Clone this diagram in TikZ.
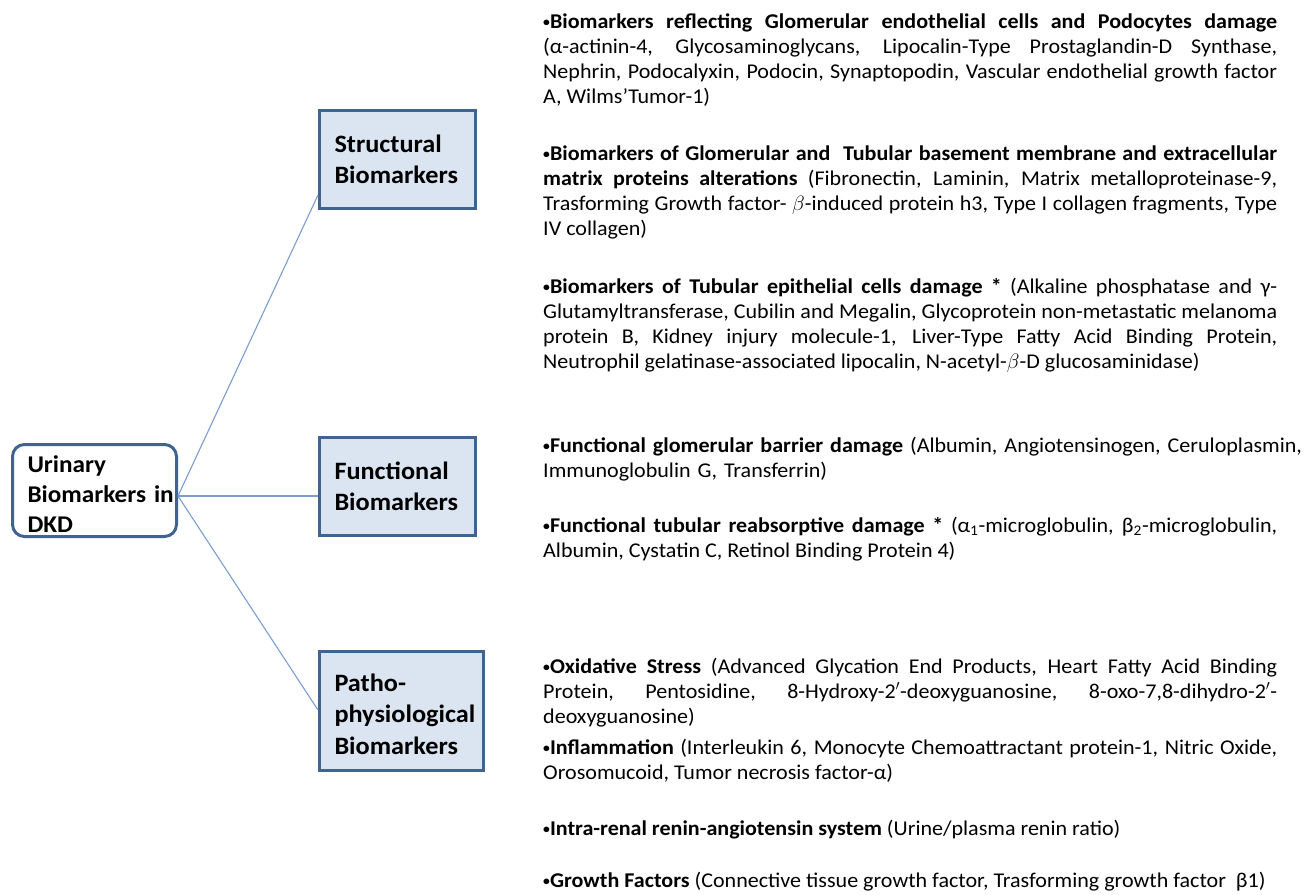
\documentclass[tikz,border=0pt]{standalone}
\usepackage{fontspec}
\setmainfont{Carlito}[FakeStretch=1.05]
\usetikzlibrary{calc}
\definecolor{boxborder}{HTML}{41638F}
\definecolor{boxfill}{HTML}{DBE5F1}
\definecolor{linkcol}{HTML}{7C9DD0}
\newcommand\bul{{\fontsize{13}{13}\selectfont\raisebox{1.6pt}{•}}}
\tolerance=10000
\hyphenpenalty=10000
\emergencystretch=20pt
\begin{document}
\begin{tikzpicture}[x=1pt,y=-1pt,
  rootbox/.style={draw=boxborder, line width=3pt, rounded corners=12pt, fill=white,
    text width=134pt, inner xsep=15pt, inner ysep=0pt, minimum height=92pt,
    align=left, font=\fontsize{24}{30}\selectfont\bfseries},
  catbox/.style={draw=boxborder, line width=3pt, fill=boxfill, inner xsep=15pt,
    inner ysep=0pt, align=left, font=\fontsize{25}{31.5}\selectfont\bfseries},
  desc/.style={anchor=base west, inner sep=0pt, text width=734pt, align=justify,
    font=\fontsize{21}{25}\selectfont},
  link/.style={draw=linkcol, line width=1.1pt}]
\fill[white] (0,0) rectangle (1311,894);
\useasboundingbox (0,0) rectangle (1311,894);

\node[rootbox, text height=24.8pt] (root) at (94.5,490.5) {Urinary\\Biomarkers~in\\DKD};
\node[catbox, text width=126pt, minimum height=98pt] (struct) at (397.5,159.5) {Structural\\Biomarkers};
\node[catbox, text width=126pt, minimum height=98pt] (func) at (397.5,486.5) {Functional\\Biomarkers};
\node[catbox, text width=134pt, minimum height=119pt, text height=24pt] (patho) at (401.5,711) {Patho-\\physiological\\Biomarkers};

\coordinate (hub) at ($(root.east)+(0,5.5)$);
\draw[link] (hub) -- ($(struct.south west)+(0,-15)$);
\draw[link] (hub) -- (hub -| func.west);
\draw[link] (hub) -- ($(patho.west)+(0,-1)$);

\node[desc] (b1) at (543,28) {\textbf{\bul Biomarkers reflecting Glomerular endothelial cells and Podocytes damage}\linebreak
(α-actinin-4, Glycosaminoglycans, Lipocalin-Type Prostaglandin-D Synthase,\linebreak
Nephrin, Podocalyxin, Podocin, Synaptopodin, Vascular endothelial growth factor\linebreak
A, Wilms’Tumor-1)};

\node[desc] (b2) at (543,160) {\textbf{\bul Biomarkers of Glomerular and~ Tubular basement membrane and extracellular\linebreak
matrix proteins alterations} (Fibronectin, Laminin, Matrix metalloproteinase-9,\linebreak
Trasforming Growth factor- $\beta$-induced protein h3, Type I collagen fragments, Type\linebreak
IV collagen)};

\node[desc] (b3) at (543,293) {\textbf{\bul Biomarkers of Tubular epithelial cells damage *} (Alkaline phosphatase and γ-\linebreak
Glutamyltransferase, Cubilin and Megalin, Glycoprotein non-metastatic melanoma\linebreak
protein B, Kidney injury molecule-1, Liver-Type Fatty Acid Binding Protein,\linebreak
Neutrophil gelatinase-associated lipocalin, N-acetyl-$\beta$-D glucosaminidase)};

\node[desc, text width=780pt, align=left] (b4) at (543,452) {\textbf{\bul Functional glomerular barrier damage} (Albumin, Angiotensinogen, Ceruloplasmin,\\
Immunoglobulin G, Transferrin)};

\node[desc] (b5) at (543,532) {\textbf{\bul Functional tubular reabsorptive damage *} (α\textsubscript{1}-microglobulin, β\textsubscript{2}-microglobulin,\linebreak
Albumin, Cystatin C, Retinol Binding Protein 4)};

\node[desc] (b6) at (543,673) {\textbf{\bul Oxidative Stress} (Advanced Glycation End Products, Heart Fatty Acid Binding\linebreak
Protein, Pentosidine, 8-Hydroxy-2$'$-deoxyguanosine, 8-oxo-7,8-dihydro-2$'$-\linebreak
deoxyguanosine)};

\node[desc] (b7) at (543,754) {\textbf{\bul Inflammation} (Interleukin 6, Monocyte Chemoattractant protein-1, Nitric Oxide,\linebreak
Orosomucoid, Tumor necrosis factor-α)};

\node[desc] (b8) at (543,835) {\textbf{\bul Intra-renal renin-angiotensin system} (Urine/plasma renin ratio)};

\node[desc] (b9) at (543,887) {\textbf{\bul Growth Factors} (Connective tissue growth factor, Trasforming growth factor~~β1)};
\end{tikzpicture}
\end{document}
